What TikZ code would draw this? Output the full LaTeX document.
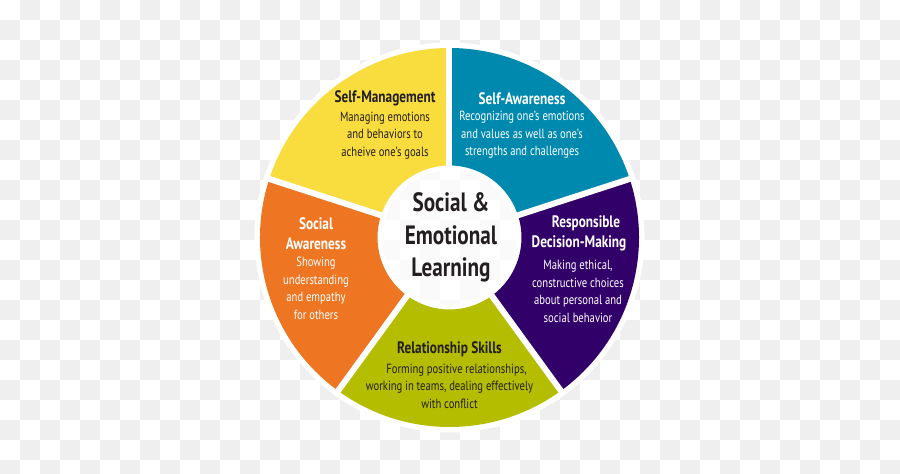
\documentclass[tikz,border=0pt]{standalone}
\usepackage{fontspec}
\setmainfont{PT Sans}[FakeStretch=0.8]
\usetikzlibrary{positioning}
\definecolor{selfmgmt}{RGB}{249,220,62}
\definecolor{selfaware}{RGB}{0,137,174}
\definecolor{decision}{RGB}{50,0,105}
\definecolor{relation}{RGB}{181,189,0}
\definecolor{socialaw}{RGB}{238,118,35}
\definecolor{checker}{RGB}{239,239,239}
\definecolor{ink}{RGB}{35,31,32}

\begin{document}
\begin{tikzpicture}[
    x=1pt, y=1pt,
    segtitle/.style={font=\fontsize{16.6}{20}\selectfont\bfseries, inner sep=0pt, align=center},
    segdesc/.style={font=\fontsize{13.3}{17.5}\selectfont, inner sep=0pt, align=center},
    hubtext/.style={font=\fontsize{26.5}{32.5}\selectfont\bfseries, inner sep=0pt, align=center, text=ink},
    gap/.style={white, line width=6pt},
]

\def\rin{72}
\def\rout{189.5}
\def\rring{195}
\def\rhub{67}

\useasboundingbox (-449.5,-236.5) rectangle (450.5,237.5);

% ===== Checkered backdrop =====
\foreach \i in {0,...,44}{
  \pgfmathtruncatemacro{\off}{mod(\i+1,2)}
  \foreach \j in {0,...,11}{
    \pgfmathsetmacro{\xx}{-449.5+20*\i}
    \pgfmathsetmacro{\yy}{237.5-20*(2*\j+\off)}
    \fill[checker] (\xx,\yy) rectangle ++(20,-20);
  }
}

% ===== White ring and see-through hub =====
\fill[white, even odd rule] (0,0) circle (\rring) (0,0) circle (\rhub);
\fill[white, opacity=0.7] (0,0) circle (\rhub);

% ===== Segments =====
\foreach \a/\b/\col in {90/162/selfmgmt, 162/234/socialaw, 234/306/relation,
                        306/378/decision, 18/90/selfaware}{
  \fill[\col] (\a:\rin) -- (\a:\rout)
    arc[start angle=\a, end angle=\b, radius=\rout]
    -- (\b:\rin) arc[start angle=\b, end angle=\a, radius=\rin] -- cycle;
}
\foreach \a in {90,162,234,306,18}
  \draw[gap] (\a:\rhub) -- (\a:\rring);

% ===== Hub =====
\node[hubtext] (hub) at (1.5,0) {Social \&\\Emotional\\Learning};

% ===== Self-Management =====
\node[segtitle, text=ink] (smtitle) at (-64.5,139) {Self-Management};
\node[segdesc, text=ink] (smdesc) at (-64.5,102)
  {Managing emotions\\and behaviors to\\acheive one’s goals};

% ===== Self-Awareness =====
\node[segtitle, text=white] (satitle) at (72.5,139) {Self-Awareness};
\node[segdesc, text=white] (sadesc) at (72.5,102.5)
  {Recognizing one’s emotions\\and values as well as one’s\\strengths and challenges};

% ===== Responsible Decision-Making =====
\node[segtitle, text=white] (rdtitle) at (129.5,4.5)
  {\hspace*{14pt}Responsible\\Decision-Making};
\node[segdesc, text=white] (rddesc) at (128.5,-54)
  {Making ethical,\\constructive choices\\about personal and\\social behavior};

% ===== Relationship Skills =====
\node[segtitle, text=ink] (rstitle) at (0,-112) {Relationship Skills};
\node[segdesc, text=ink] (rsdesc) at (0,-148.5)
  {\hspace*{14pt}Forming positive relationships,\\working in teams, dealing effectively\\with conflict};

% ===== Social Awareness =====
\node[segtitle, text=white] (swtitle) at (-133.5,4) {Social\\Awareness};
\node[segdesc, text=white] (swdesc) at (-133.5,-51)
  {Showing\\understanding\\and empathy\\for others};

\end{tikzpicture}
\end{document}
